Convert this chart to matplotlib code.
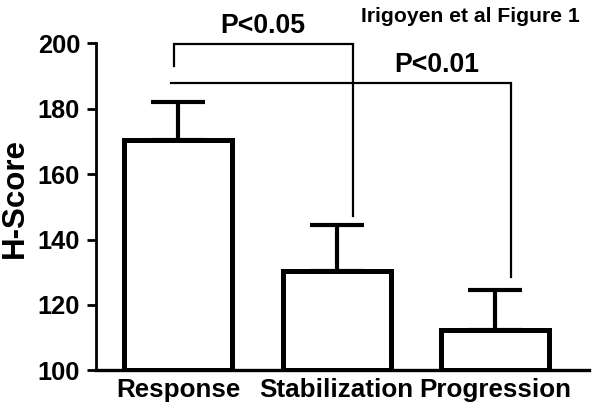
import matplotlib
matplotlib.use("Agg")
import matplotlib.pyplot as plt
import numpy as np

# ---- data ----
categories = ["Response", "Stabilization", "Progression"]
means = [170.5, 130.3, 112.4]
sem = [11.5, 14.0, 12.3]
yticks = [100, 120, 140, 160, 180, 200]
comparisons = [("Response", "Stabilization", "P<0.05"),
               ("Response", "Progression", "P<0.01")]
title = "Irigoyen et al Figure 1"
ylabel = "H-Score"

# ---- layout / style ----
FONT = "Liberation Sans"
plt.rcParams["font.family"] = [FONT, "DejaVu Sans"]
plt.rcParams["font.weight"] = "bold"

fig = plt.figure(figsize=(6.0, 4.07), dpi=100)
ax = fig.add_axes([0.16, 0.0897, 0.9817 - 0.16, 0.8943 - 0.0897])

x = np.arange(len(categories))
base = 100
ax.bar(x, np.array(means) - base, bottom=base, width=0.682,
       color="white", edgecolor="black", linewidth=3.6, zorder=2)
ax.errorbar(x, means, yerr=[np.zeros(len(sem)), sem], fmt="none",
            ecolor="black", elinewidth=3.0, capsize=19.4, capthick=3.0,
            zorder=3)

ax.set_xlim(-0.521, 2.594)
ax.set_ylim(100, 200)
ax.set_yticks(yticks)
ax.set_yticklabels([str(t) for t in yticks], fontsize=18.3, fontweight="bold")
ax.set_xticks(x)
ax.set_xticklabels(categories, fontsize=18.7, fontweight="bold")
ax.tick_params(axis="x", length=0, pad=5.5)
ax.tick_params(axis="y", length=6.7, width=2.0, pad=4.8, direction="out")

for s in ("top", "right"):
    ax.spines[s].set_visible(False)
ax.spines["left"].set_linewidth(2.0)
ax.spines["bottom"].set_linewidth(2.4)
ax.spines["left"].set_bounds(100, 200)

# significance brackets
bracket_y = [199.8, 187.9]
left_x_off = [-0.027, -0.047]
right_x_off = [0.103, 0.104]
left_leg_bottom = [193.0, None]
right_leg_bottom = [147.2, 128.5]
label_pos = [(0.534, 203.0), (1.634, 191.2)]
for k, (a, b, lab) in enumerate(comparisons):
    i0 = categories.index(a)
    i1 = categories.index(b)
    xl = i0 + left_x_off[k]
    xr = i1 + right_x_off[k]
    yb = bracket_y[k]
    xs = [xl, xr, xr]
    ys = [yb, yb, right_leg_bottom[k]]
    if left_leg_bottom[k] is not None:
        xs = [xl] + xs
        ys = [left_leg_bottom[k]] + ys
    ax.plot(xs, ys, color="black", lw=1.6, clip_on=False, zorder=4,
            solid_joinstyle="miter")
    ax.text(label_pos[k][0], label_pos[k][1], lab, ha="center",
            va="baseline", fontsize=19.2, fontweight="bold", clip_on=False)

fig.text(580 / 600, 1 - 21.7 / 407, title, ha="right", va="baseline",
         fontsize=15.2, fontweight="bold")
fig.text(15 / 600, 1 - 197.5 / 407, ylabel, rotation=90, ha="center",
         va="center", fontsize=22.5, fontweight="bold")

fig.savefig("out.png", dpi=100)
